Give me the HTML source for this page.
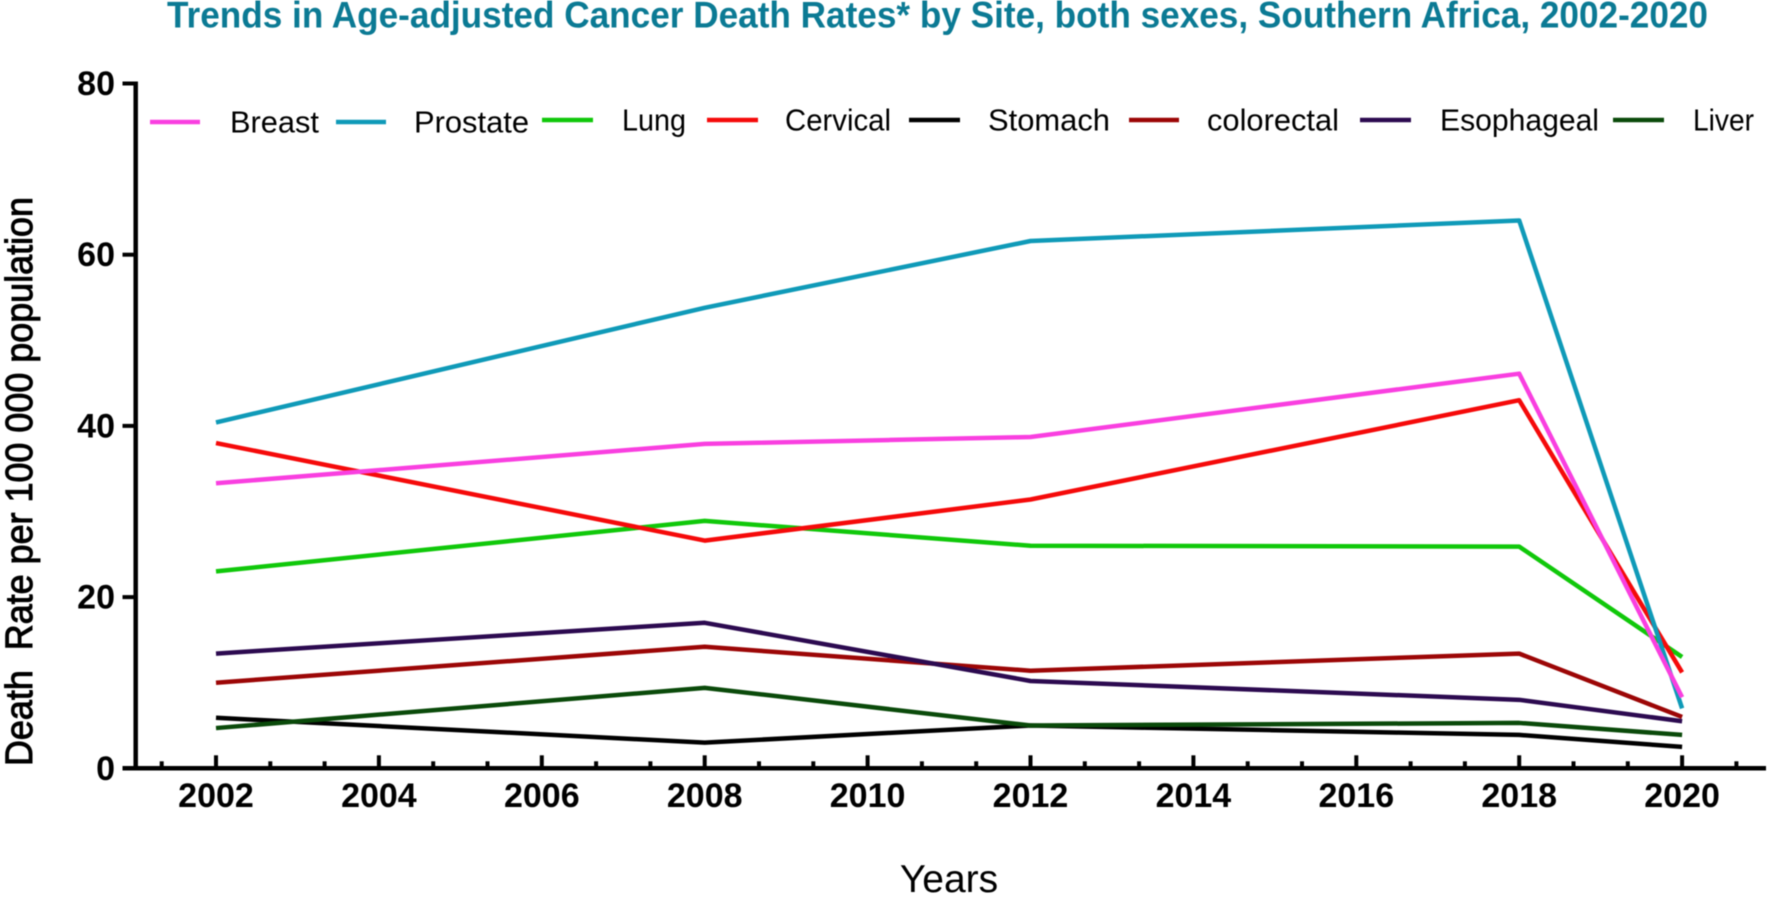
<!DOCTYPE html>
<html lang="en">
<head>
<meta charset="utf-8">
<title>Trends in Age-adjusted Cancer Death Rates</title>
<style>
html,body{margin:0;padding:0;background:#fff;width:1772px;height:898px;overflow:hidden}
svg{display:block;filter:blur(0.5px)}
text{font-family:"Liberation Sans",Arial,sans-serif}
.tick{font-size:34px;font-weight:bold;fill:#000}
.leg{font-size:31px;fill:#000}
</style>
</head>
<body>
<svg id="chart" xmlns="http://www.w3.org/2000/svg" width="1772" height="898" viewBox="0 0 1772 898">
  <rect x="0" y="0" width="1772" height="898" fill="#fff"/>
  <text x="167" y="27.5" font-size="37" font-weight="bold" fill="#0b7a94" textLength="1541" lengthAdjust="spacingAndGlyphs">Trends in Age-adjusted Cancer Death Rates* by Site, both sexes, Southern Africa, 2002-2020</text>
  <text transform="translate(32 766) rotate(-90)" font-size="38" fill="#000" stroke="#000" stroke-width="1" textLength="569" lengthAdjust="spacingAndGlyphs">Death&#160; Rate per 100 000 population</text>
  <text x="949" y="892" font-size="39" fill="#000" text-anchor="middle">Years</text>
  <g id="axes"></g>
  <g id="series"></g>
  <g stroke-width="4.5">
    <g><line x1="150" x2="200" y1="122" y2="122" stroke="#f93fe0"/><text class="leg" x="230" y="132.5" textLength="89" lengthAdjust="spacingAndGlyphs">Breast</text></g>
    <g><line x1="336" x2="386" y1="122" y2="122" stroke="#0f9ab8"/><text class="leg" x="414" y="132.5" textLength="115" lengthAdjust="spacingAndGlyphs">Prostate</text></g>
    <g><line x1="542" x2="593" y1="120" y2="120" stroke="#10c80a"/><text class="leg" x="622" y="130.5" textLength="64" lengthAdjust="spacingAndGlyphs">Lung</text></g>
    <g><line x1="707" x2="758" y1="120" y2="120" stroke="#f50a0a"/><text class="leg" x="785" y="130.5" textLength="106" lengthAdjust="spacingAndGlyphs">Cervical</text></g>
    <g><line x1="909" x2="960" y1="120" y2="120" stroke="#000"/><text class="leg" x="988" y="130.5" textLength="122" lengthAdjust="spacingAndGlyphs">Stomach</text></g>
    <g><line x1="1129" x2="1179" y1="120" y2="120" stroke="#9c0606"/><text class="leg" x="1207" y="130.5" textLength="132" lengthAdjust="spacingAndGlyphs">colorectal</text></g>
    <g><line x1="1360" x2="1411" y1="120" y2="120" stroke="#2c0a50"/><text class="leg" x="1440" y="130.5" textLength="159" lengthAdjust="spacingAndGlyphs">Esophageal</text></g>
    <g><line x1="1613" x2="1664" y1="120" y2="120" stroke="#0a4a0a"/><text class="leg" x="1693" y="130.5" textLength="61" lengthAdjust="spacingAndGlyphs">Liver</text></g>
  </g>
</svg>
<script>
const years = [2002, 2008, 2012, 2018, 2020];
const breast = [33.3, 37.9, 38.7, 46.1, 8.3];
const prostate = [40.4, 53.8, 61.6, 64.0, 7.0];
const lung = [23.0, 28.9, 26.0, 25.9, 13.0];
const cervical = [38.0, 26.6, 31.4, 43.0, 11.2];
const stomach = [5.9, 3.0, 5.0, 3.9, 2.5];
const colorectal = [10.0, 14.2, 11.4, 13.4, 6.0];
const esophageal = [13.4, 17.0, 10.2, 8.0, 5.5];
const liver = [4.7, 9.4, 5.0, 5.3, 3.9];
const yTickValues = [0, 20, 40, 60, 80];
const xTickYears = [2002, 2004, 2006, 2008, 2010, 2012, 2014, 2016, 2018, 2020];

const NS = 'http://www.w3.org/2000/svg';
const xScale = function (year) { return 216 + (year - 2002) * 81.45; };
const yScale = function (value) { return 768.3 - value * 8.56; };

const axes = document.getElementById('axes');
const seriesGroup = document.getElementById('series');

function makeLine(x1, y1, x2, y2, width) {
  const l = document.createElementNS(NS, 'line');
  l.setAttribute('x1', x1);
  l.setAttribute('y1', y1);
  l.setAttribute('x2', x2);
  l.setAttribute('y2', y2);
  l.setAttribute('stroke', '#000');
  l.setAttribute('stroke-width', width);
  return l;
}
function makeTickLabel(x, y, anchor, label) {
  const t = document.createElementNS(NS, 'text');
  t.setAttribute('class', 'tick');
  t.setAttribute('x', x);
  t.setAttribute('y', y);
  t.setAttribute('text-anchor', anchor);
  t.textContent = label;
  return t;
}

const yAxisLine = makeLine(135.7, yScale(80) - 2, 135.7, yScale(0), 4.5);


axes.appendChild(yAxisLine);

const xAxisLine = makeLine(122.5, yScale(0), 1766, yScale(0), 4.5);


axes.appendChild(xAxisLine);

yTickValues.forEach(function (v) {
  const tick = makeLine(122.5, yScale(v), 135.7, yScale(v), 4);
  
  
  axes.appendChild(tick);
  const label = makeTickLabel(115, yScale(v) + 11.5, 'end', String(v));
  
  
  axes.appendChild(label);
});

xTickYears.forEach(function (yr) {
  const tick = makeLine(xScale(yr), yScale(0), xScale(yr), yScale(0) - 13, 4);
  
  
  axes.appendChild(tick);
  const label = makeTickLabel(xScale(yr), 807, 'middle', String(yr));
  
  
  axes.appendChild(label);
});

for (let k = -1; k <= 28; k++) {
  if (k % 3 === 0) continue;
  const minorYear = 2002 + k * 2 / 3;
  const minor = makeLine(xScale(minorYear), yScale(0), xScale(minorYear), yScale(0) - 7, 4);
  
  
  axes.appendChild(minor);
}

function drawSeries(name, values, color) {
  const p = document.createElementNS(NS, 'polyline');
  const pts = values.map(function (v, i) { return xScale(years[i]) + ',' + yScale(v); }).join(' ');
  p.setAttribute('points', pts);
  p.setAttribute('fill', 'none');
  p.setAttribute('stroke', color);
  p.setAttribute('stroke-width', '4.5');
  p.setAttribute('stroke-linejoin', 'round');
  
  
  seriesGroup.appendChild(p);
}

drawSeries('line-stomach', stomach, '#000000');
drawSeries('line-liver', liver, '#0a4a0a');
drawSeries('line-colorectal', colorectal, '#9c0606');
drawSeries('line-esophageal', esophageal, '#2c0a50');
drawSeries('line-lung', lung, '#10c80a');
drawSeries('line-cervical', cervical, '#f50a0a');
drawSeries('line-prostate', prostate, '#0f9ab8');
drawSeries('line-breast', breast, '#f93fe0');
</script>
</body>
</html>
